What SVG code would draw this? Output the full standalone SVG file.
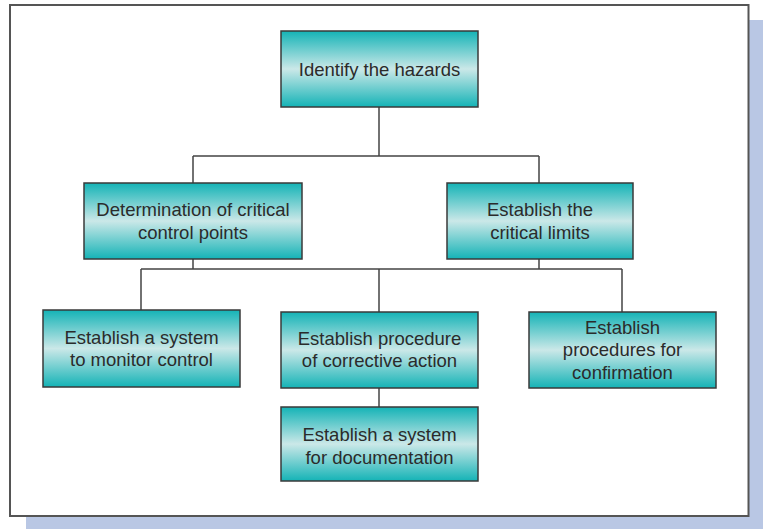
<svg xmlns="http://www.w3.org/2000/svg" width="763" height="529" viewBox="0 0 763 529">
<defs>
<linearGradient id="teal" x1="0" y1="0" x2="0" y2="1">
<stop offset="0" stop-color="#14b3b6"/>
<stop offset="0.5" stop-color="#cbe8e8"/>
<stop offset="1" stop-color="#14b3b6"/>
</linearGradient>
<style>
.box{fill:url(#teal);stroke:#3a3a3a;stroke-width:1.5}
.lbl{font-family:"Liberation Sans",Arial,sans-serif;font-size:18.5px;fill:#2b2b2b;text-anchor:middle}
.conn{fill:none;stroke:#444;stroke-width:1.5}
</style>
</defs>
<rect x="26" y="20" width="737" height="509" fill="#b9c7e4"/>
<rect x="10" y="5" width="738.5" height="511" fill="#fff" stroke="#555" stroke-width="2"/>
<g id="connectors" class="conn">
<path d="M379 107V156M193 156H539M193 156V183M539 156V183"/>
<path d="M193 259V269M539 259V269M141 269H622M141 269V310M379 269V312M622 269V312"/>
<path d="M379 388V407"/>
</g>
<g id="n1"><rect class="box" x="281" y="31" width="197" height="76"/><text class="lbl" x="379.5" y="76">Identify the hazards</text></g>
<g id="n2"><rect class="box" x="84" y="183" width="218" height="76"/><text class="lbl" x="193" y="216">Determination of critical</text><text class="lbl" x="193" y="238.7">control points</text></g>
<g id="n3"><rect class="box" x="447" y="183" width="186" height="76"/><text class="lbl" x="540" y="215.5">Establish the</text><text class="lbl" x="540" y="238.5">critical limits</text></g>
<g id="n4"><rect class="box" x="43" y="310" width="197" height="77"/><text class="lbl" x="141.5" y="343.5">Establish a system</text><text class="lbl" x="141.5" y="366">to monitor control</text></g>
<g id="n5"><rect class="box" x="281" y="312" width="197" height="76"/><text class="lbl" x="379.5" y="344.5">Establish procedure</text><text class="lbl" x="379.5" y="367">of corrective action</text></g>
<g id="n6"><rect class="box" x="281" y="407" width="197" height="74"/><text class="lbl" x="379.5" y="441">Establish a system</text><text class="lbl" x="379.5" y="463.5">for documentation</text></g>
<g id="n7"><rect class="box" x="529" y="312" width="187" height="76"/><text class="lbl" x="622.5" y="333.5">Establish</text><text class="lbl" x="622.5" y="356">procedures for</text><text class="lbl" x="622.5" y="378.5">confirmation</text></g>
</svg>
